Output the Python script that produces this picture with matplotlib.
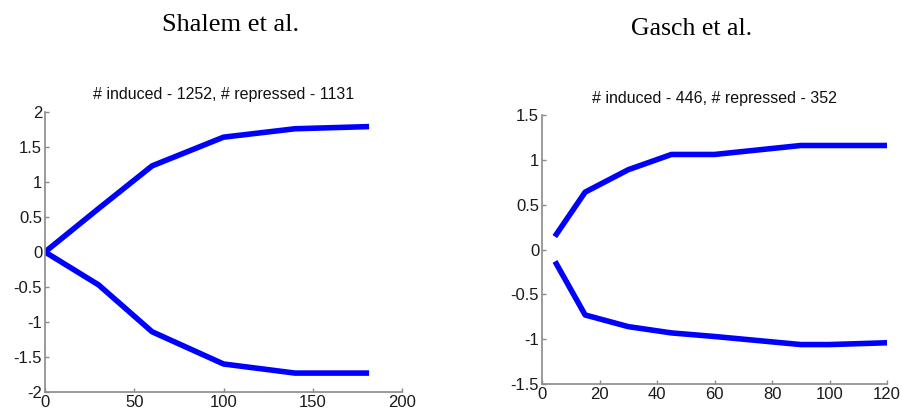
import numpy as np
import matplotlib.pyplot as plt

# Shalem et al. time course (min) and mean log-ratio
shalem_t = [0, 30, 60, 100, 140, 180]
shalem_induced = [0, 0.62, 1.23, 1.64, 1.76, 1.79]
shalem_repressed = [0, -0.47, -1.14, -1.60, -1.73, -1.73]

# Gasch et al.
gasch_t = [5, 15, 30, 45, 60, 90, 100, 120]
gasch_induced = [0.17, 0.64, 0.89, 1.06, 1.06, 1.16, 1.16, 1.16]
gasch_repressed = [-0.16, -0.73, -0.86, -0.93, -0.97, -1.06, -1.06, -1.04]

blue = (0, 0, 1)
plt.rcParams['font.family'] = ['Liberation Sans', 'DejaVu Sans']

fig = plt.figure(figsize=(9.02, 4.17), dpi=100)


def style(ax):
    for s in ['top', 'right']:
        ax.spines[s].set_visible(False)
    for s in ['left', 'bottom']:
        ax.spines[s].set_color('#8a8a8a')
        ax.spines[s].set_linewidth(1.2)
    ax.tick_params(direction='in', length=3, width=1, color='#8a8a8a',
                   labelsize=12, labelcolor='#1a1a1a', pad=2)


ax1 = fig.add_axes([0.0499, 0.060, 0.3958, 0.6715])
ax1.plot(shalem_t, shalem_induced, color=blue, lw=4)
ax1.plot(shalem_t, shalem_repressed, color=blue, lw=4)
ax1.set_xlim(0, 200)
ax1.set_ylim(-2, 2)
ax1.set_xticks([0, 50, 100, 150, 200])
ax1.set_yticks(np.arange(-2, 2.01, 0.5))
ax1.set_yticklabels(['-2', '-1.5', '-1', '-0.5', '0', '0.5', '1', '1.5', '2'])
ax1.set_title('# induced - 1252, # repressed - 1131', fontsize=11.5,
              pad=9.4, color='#111111')
style(ax1)

ax2 = fig.add_axes([0.6009, 0.0791, 0.3825, 0.6451])
ax2.plot(gasch_t, gasch_induced, color=blue, lw=4)
ax2.plot(gasch_t, gasch_repressed, color=blue, lw=4)
ax2.set_xlim(0, 120)
ax2.set_ylim(-1.5, 1.5)
ax2.set_xticks([0, 20, 40, 60, 80, 100, 120])
ax2.set_yticks(np.arange(-1.5, 1.51, 0.5))
ax2.set_yticklabels(['-1.5', '-1', '-0.5', '0', '0.5', '1', '1.5'])
ax2.set_title('# induced - 446, # repressed - 352', fontsize=11.5,
              pad=8.6, color='#111111')
style(ax2)

fig.text(230.5 / 902, 1 - 31 / 417, 'Shalem et al.', family='Liberation Serif',
         fontsize=19, ha='center', va='baseline')
fig.text(691.5 / 902, 1 - 35 / 417, 'Gasch et al.', family='Liberation Serif',
         fontsize=18.5, ha='center', va='baseline')

fig.savefig('out.png', dpi=100)
